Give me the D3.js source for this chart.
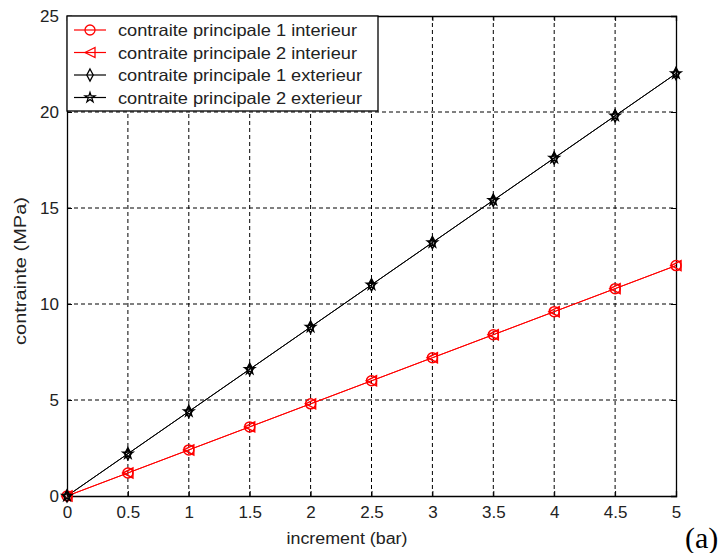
<!DOCTYPE html>
<html><head><meta charset="utf-8">
<script src="https://cdn.jsdelivr.net/npm/d3@7"></script>
<style>body{margin:0;background:#fff}svg{display:block}</style>
</head><body>
<script>
const xValues = [0, 0.5, 1, 1.5, 2, 2.5, 3, 3.5, 4, 4.5, 5];
const p1Interieur = [0, 1.2, 2.4, 3.6, 4.8, 6.0, 7.2, 8.4, 9.6, 10.8, 12.0];
const p2Interieur = [0, 1.2, 2.4, 3.6, 4.8, 6.0, 7.2, 8.4, 9.6, 10.8, 12.0];
const p1Exterieur = [0, 2.2, 4.4, 6.6, 8.8, 11.0, 13.2, 15.4, 17.6, 19.8, 22.0];
const p2Exterieur = [0, 2.2, 4.4, 6.6, 8.8, 11.0, 13.2, 15.4, 17.6, 19.8, 22.0];
const xTicks = [0, 0.5, 1, 1.5, 2, 2.5, 3, 3.5, 4, 4.5, 5];
const yTicks = [0, 5, 10, 15, 20, 25];
const seriesNames = ["contraite principale 1 interieur","contraite principale 2 interieur","contraite principale 1 exterieur","contraite principale 2 exterieur"];
const seriesColors = ["#ff0000","#ff0000","#000000","#000000"];
const seriesMarkers = ["circle","triangleLeft","diamond","star"];
const seriesData = [p1Interieur, p2Interieur, p1Exterieur, p2Exterieur];

const W = 723, H = 553;
const L = 67, R = 676, T = 16, B = 496;
const svg = d3.select("body").append("svg").attr("width", W).attr("height", H);
const x = d3.scaleLinear().domain([0,5]).range([L,R]);
const y = d3.scaleLinear().domain([0,25]).range([B,T]);
const font = "Arial, 'Liberation Sans', sans-serif";

// grid
const g = svg.append("g");
g.selectAll(".vg").data(xTicks.slice(1,-1)).join("line")
  .attr("x1", d=>x(d)).attr("x2", d=>x(d)).attr("y1", B).attr("y2", T)
  .attr("stroke","#000").attr("stroke-width",1).attr("stroke-dasharray","4,3");
g.selectAll(".hg").data(yTicks.slice(1,-1)).join("line")
  .attr("x1", L).attr("x2", R).attr("y1", d=>y(d)).attr("y2", d=>y(d))
  .attr("stroke","#000").attr("stroke-width",1).attr("stroke-dasharray","4,3");

// axes
const xAxis = d3.axisBottom(x).tickValues(xTicks).tickSize(-5).tickPadding(10).tickFormat(d3.format("~g"));
const yAxis = d3.axisLeft(y).tickValues(yTicks).tickSize(-5).tickPadding(8).tickFormat(d3.format("~g"));
const xa = svg.append("g").attr("transform",`translate(0,${B})`).call(xAxis);
const ya = svg.append("g").attr("transform",`translate(${L},0)`).call(yAxis);
svg.append("g").attr("transform",`translate(0,${T})`).call(d3.axisTop(x).tickValues(xTicks).tickSize(-5).tickFormat(""));
svg.append("g").attr("transform",`translate(${R},0)`).call(d3.axisRight(y).tickValues(yTicks).tickSize(-5).tickFormat(""));
svg.selectAll(".domain").attr("stroke","#000").attr("stroke-width",1.3);
svg.selectAll(".tick line").attr("stroke","#000");
[xa, ya].forEach(a => a.selectAll("text").attr("font-family",font).attr("font-size",17).attr("fill","#222"));

// marker
function markerPath(type, s){
  if(type==="circle") return d3.symbol().type(d3.symbolCircle).size(Math.PI*(s/2)*(s/2))();
  if(type==="triangleLeft") return `M${-s/2},0L${s/2},${-s/2}L${s/2},${s/2}Z`;
  if(type==="diamond") return `M0,${-s*0.6}L${s*0.32},0L0,${s*0.6}L${-s*0.32},0Z`;
  if(type==="star") return d3.symbol().type(d3.symbolStar).size(s*s*0.3)();
}

const line = d3.line().x((d,i)=>x(xValues[i])).y(d=>y(d));
seriesData.forEach((data, k) => {
  svg.append("path").datum(data).attr("d", line).attr("fill","none")
    .attr("stroke", seriesColors[k]).attr("stroke-width",1);
});
seriesData.forEach((data, k) => {
  svg.append("g").selectAll("path").data(data).join("path")
    .attr("transform",(d,i)=>`translate(${x(xValues[i])},${y(d)})`)
    .attr("d", markerPath(seriesMarkers[k], 10))
    .attr("fill","none").attr("stroke", seriesColors[k]).attr("stroke-width",1.5);
});

// legend
const lg = svg.append("g");
lg.append("rect").attr("x",L).attr("y",T).attr("width",378-L).attr("height",111-T)
  .attr("fill","#fff").attr("stroke","#000").attr("stroke-width",1.3);
const rowY = [30, 52.5, 75, 97.5];
seriesNames.forEach((name,k)=>{
  lg.append("line").attr("x1",74).attr("x2",106).attr("y1",rowY[k]).attr("y2",rowY[k])
    .attr("stroke",seriesColors[k]).attr("stroke-width",1.2);
  lg.append("path").attr("transform",`translate(90,${rowY[k]})`)
    .attr("d", markerPath(seriesMarkers[k], 10))
    .attr("fill","none").attr("stroke",seriesColors[k]).attr("stroke-width",1.3);
  const t = lg.append("text").attr("x",118).attr("y",rowY[k]+6).text(name)
    .attr("font-family",font).attr("font-size",16.5).attr("fill","#222");
  t.attr("textLength", k < 2 ? 239 : 244).attr("lengthAdjust","spacingAndGlyphs");
});

// labels
svg.append("text").attr("x",347).attr("y",544).attr("text-anchor","middle")
  .attr("font-family",font).attr("font-size",16).attr("fill","#222")
  .attr("textLength",121).attr("lengthAdjust","spacingAndGlyphs").text("increment (bar)");
svg.append("text").attr("transform",`translate(26,271) rotate(-90)`).attr("text-anchor","middle")
  .attr("font-family",font).attr("font-size",16).attr("fill","#222")
  .attr("textLength",148).attr("lengthAdjust","spacingAndGlyphs").text("contrainte (MPa)");
svg.append("text").attr("x",685).attr("y",548).attr("font-family","'Liberation Serif', 'Times New Roman', serif")
  .attr("font-size",30).text("(a)");
</script>
</body></html>
